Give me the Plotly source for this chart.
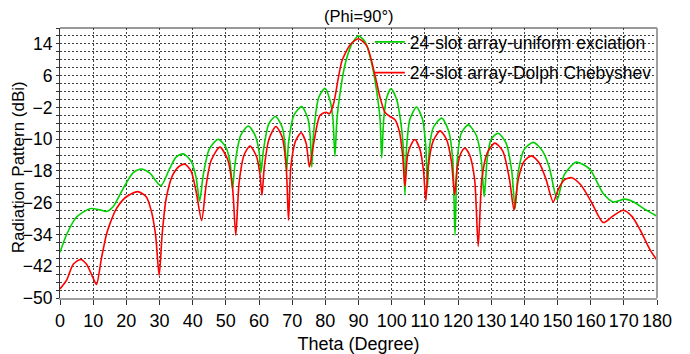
import plotly.graph_objects as go

# ---- data ----
theta_uniform = [0, 2, 5, 9, 12, 14, 16, 19, 22, 24.5, 27, 30.4, 33, 35, 37.2, 39.5, 41, 42.1, 43.2,
                 45, 47.7, 50, 51.3, 52.0, 52.8, 54.5, 56.8, 58.8, 60.0, 60.6, 61.3, 63, 65, 67, 67.8,
                 68.3, 68.9, 70.5, 72.9, 74.8, 75.5, 75.9, 76.5, 78, 79.9, 81.5, 82.3, 82.9, 83.5,
                 84.5, 86, 88, 90, 92, 94, 95.5, 96.5, 97.0, 97.6, 98.5, 99.8, 101.5, 102.8, 103.5,
                 104, 104.5, 105.5, 107.5, 109.3, 110.3, 110.8, 111.4, 112.6, 115.1, 117.2, 118.4,
                 119.1, 119.8, 121, 123.1, 125.5, 127, 127.9, 128.8, 130, 132.1, 134.5, 136.2, 137.2,
                 138.2, 140, 142.7, 145.5, 147.5, 149.9, 152, 155.5, 158, 160, 163.8, 166.8, 170.3,
                 173, 176, 180]
db_uniform = [-38.5, -34, -29.6, -27.5, -27.8, -28.2, -27, -22.5, -18.5, -17.5, -18.5, -21.7, -17.5,
              -14.5, -13.7, -15.5, -19.5, -25.6, -19, -12.5, -10, -12, -16, -22.5, -16, -9, -6.7, -9,
              -13, -18.4, -13, -6, -4.3, -7, -11, -18.2, -11, -4, -1.8, -5, -10, -17, -8, 0.5, 2.8,
              -0.5, -5, -14.3, -5, 2, 9, 14, 16, 14.5, 9, 2, -5, -14.7, -5, 0.5, 2.7, 0, -6, -12,
              -24, -12, -5, -1.9, -5, -12, -22.2, -12, -7, -4.7, -8, -15, -34.2, -15, -8.5, -6.4,
              -9, -15, -24.5, -15, -10, -8.5, -11, -18, -27.5, -18, -12.5, -10.8, -13, -17, -25.2,
              -19, -15.8, -16.5, -17.8, -23.7, -25.8, -25.1, -25.8, -27.5, -29.4]

theta_dolph = [0, 2, 4, 6.2, 8, 10, 11.0, 12.5, 14, 15.1, 17, 20, 23.4, 26, 27.5, 28.8, 29.9, 30.8,
               32, 34, 36, 37.7, 39.5, 41, 42.7, 44, 45.5, 48.2, 50.5, 52, 53, 54, 55.5, 57.3, 59.3,
               60.3, 60.9, 61.6, 63, 65.1, 67, 68.2, 68.9, 69.6, 71, 72.7, 74.2, 75.2, 76.5, 78.4,
               80.2, 81.2, 82.5, 84, 85, 87.5, 90, 92.5, 95, 96.5, 98, 99.5, 101, 102.3, 103.3, 104,
               104.8, 105.8, 107, 108.5, 109.6, 110.3, 111, 112.5, 114.6, 116.5, 118, 119, 119.8,
               121, 122.1, 123.5, 125, 126.1, 127.2, 128.8, 131.1, 133.5, 135.5, 136.9, 138.2, 140,
               142.2, 144.5, 146.5, 148.7, 150.3, 152, 154.3, 157, 160, 163.8, 166.5, 169.8, 172.5,
               175, 178, 180]
db_dolph = [-47.7, -45.5, -41.5, -40.3, -41.5, -45, -46.6, -40, -34, -31.2, -27.5, -24.5, -23.2,
            -24.5, -28, -34, -44.3, -34, -25, -19, -16.8, -16.3, -18, -23, -30.5, -22, -15.5, -12,
            -15, -22, -34.2, -21, -14, -11.7, -14.5, -19, -24.1, -17, -10, -6.8, -9.5, -17, -30.4,
            -17, -10.5, -8.4, -11, -17, -11, -4, -3.2, -3.6, -1, 5.8, 9.7, 13.8, 15.3, 13.5, 6, 0.5,
            -3.3, -4.3, -5.1, -8, -14, -21.9, -14, -11.5, -10.1, -12.5, -18, -25.5, -17, -10.5,
            -7.9, -10, -15.5, -24, -17, -13.3, -12.3, -14, -20, -37, -20, -13.5, -11, -13, -20,
            -27.9, -20, -15.5, -14.2, -16, -20, -25.8, -22.5, -20.3, -19.7, -21.5, -25.5, -31,
            -29.5, -27.9, -29.5, -33, -38, -40.5]

y_tickvals = [14, 6, -2, -10, -18, -26, -34, -42, -50]
x_tickvals = list(range(0, 181, 10))

FONT = "Liberation Sans, Arial, sans-serif"
GRID = "#404040"

fig = go.Figure()
fig.add_trace(go.Scatter(x=theta_uniform, y=db_uniform, mode="lines",
                         name="24-slot array-uniform exciation", legendgroup="a",
                         line=dict(color="#00d000", width=1.6, shape="spline", smoothing=0.7)))
fig.add_trace(go.Scatter(x=theta_dolph, y=db_dolph, mode="lines",
                         name="24-slot array-Dolph Chebyshev", legendgroup="b",
                         line=dict(color="#ff0000", width=1.6, shape="spline", smoothing=0.7)))

fig.update_layout(
    width=690, height=354,
    margin=dict(l=60, r=33, t=28, b=56, autoexpand=False),
    paper_bgcolor="white", plot_bgcolor="white",
    font=dict(family=FONT, color="black", size=16),
    title=dict(text="(Phi=90°)", x=0.52, xanchor="center", y=0.955, yanchor="middle",
               font=dict(size=16.5, family=FONT)),
    showlegend=True,
    legend=dict(x=0.519, y=1.015, xanchor="left", yanchor="top", bgcolor="rgba(0,0,0,0)",
                font=dict(size=17.5, family=FONT), itemwidth=30, tracegroupgap=5,
                borderwidth=0),
)

fig.update_xaxes(
    range=[0, 180], tickmode="array", tickvals=x_tickvals, tickangle=0, automargin=False,
    ticks="outside", ticklen=5, tickcolor="#333", tickfont=dict(size=18),
    showgrid=True, gridcolor=GRID, griddash="2px,2px", gridwidth=1,
    showline=True, linecolor="#a0a0a0", linewidth=2,
    zeroline=False,
    title=dict(text="Theta (Degree)", font=dict(size=18), standoff=10),
)
fig.update_yaxes(
    range=[-50, 18], tickmode="array", tickvals=y_tickvals, automargin=False,
    ticks="outside", ticklen=3, tickcolor="#333", tickfont=dict(size=17.5),
    showgrid=True, gridcolor=GRID, griddash="2px,2px", gridwidth=1,
    minor=dict(tickmode="linear", tick0=-50, dtick=2, showgrid=True, gridcolor=GRID,
               griddash="2px,2px", gridwidth=1, ticks="outside", ticklen=3, tickcolor="#333"),
    showline=True, linecolor="#333", linewidth=1,
    zeroline=False,
)

# y-axis title placed as rotated text
fig.add_annotation(text="Radiation Pattern (dBi)", xref="paper", yref="paper",
                   x=-0.070, y=0.485, xanchor="center", yanchor="middle",
                   textangle=-90, showarrow=False, font=dict(size=17, family=FONT))

# frame: dark top edge, grey right edge
fig.add_shape(type="line", xref="paper", yref="paper", x0=0, x1=1, y0=1, y1=1,
              line=dict(color="#333", width=1))
fig.add_shape(type="line", xref="paper", yref="paper", x0=1, x1=1, y0=0, y1=1,
              line=dict(color="#a0a0a0", width=2))

fig.write_html("out.html")
